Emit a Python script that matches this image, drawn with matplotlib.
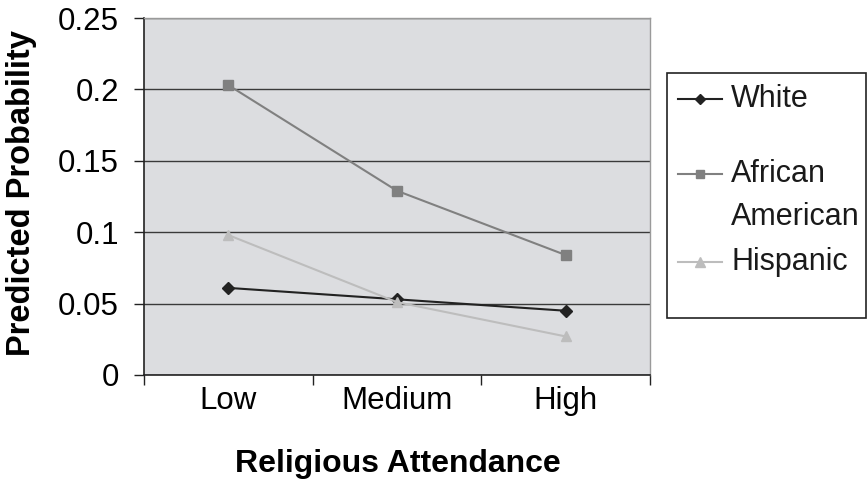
import matplotlib
matplotlib.use("Agg")
import matplotlib.pyplot as plt
from matplotlib.lines import Line2D
from matplotlib.patches import Rectangle

plt.rcParams["font.family"] = ["Liberation Sans", "DejaVu Sans"]

# data
categories = ["Low", "Medium", "High"]
series_names = ["White", "African\nAmerican", "Hispanic"]
white = [0.061, 0.053, 0.045]
african_american = [0.203, 0.129, 0.084]
hispanic = [0.098, 0.051, 0.027]
y_ticks = [0, 0.05, 0.1, 0.15, 0.2, 0.25]

W, H = 868, 482
FS = 22.5
fig = plt.figure(figsize=(W / 100, H / 100), dpi=100)
ax = fig.add_axes([144 / W, 1 - 375 / H, (650 - 144) / W, (375 - 18) / H])
ax.set_facecolor("#dcdde0")

x = list(range(1, len(categories) + 1))
styles = [
    dict(color="#222222", marker="D", ms=6.5, lw=1.5),
    dict(color="#808080", marker="s", ms=6.5, lw=1.5),
    dict(color="#bdbdbd", marker="^", ms=7.5, lw=1.5),
]
values = [white, african_american, hispanic]
for vals, st in zip(values, styles):
    ax.plot(x, vals, zorder=3, **st)

ax.set_xlim(0.5, len(categories) + 0.5)
ax.set_ylim(0, 0.25)
ax.set_yticks(y_ticks)
ax.set_yticklabels([f"{v:g}" for v in y_ticks])
ax.yaxis.grid(True, color="#3a3a3a", lw=1.0)
ax.set_axisbelow(True)

# category axis: tick marks between categories, labels centred
ax.set_xticks([i + 0.5 for i in range(len(categories) + 1)])
ax.set_xticklabels([])
ax.set_xticks(x, minor=True)
ax.set_xticklabels(categories, minor=True)
ax.tick_params(axis="x", which="major", direction="out", length=7, width=1, color="#222")
ax.tick_params(axis="x", which="minor", length=0, pad=8, labelsize=FS)
ax.tick_params(axis="y", direction="out", length=7, width=1, color="#222", pad=11, labelsize=FS)

for side in ("left", "bottom"):
    ax.spines[side].set_color("#222222")
    ax.spines[side].set_linewidth(1.2)
for side in ("top", "right"):
    ax.spines[side].set_color("#9a9a9a")
    ax.spines[side].set_linewidth(1.0)

fig.text(398 / W, 1 - 464 / H, "Religious Attendance", ha="center", va="center",
         fontsize=23, fontweight="bold")
fig.text(22 / W, 1 - 193 / H, "Predicted Probability", ha="center", va="center",
         rotation=90, fontsize=23.5, fontweight="bold")

# legend box drawn by hand (Excel style: marker beside first line of label)
fig.add_artist(Rectangle((667 / W, 1 - 318 / H), (866 - 667) / W, (318 - 73) / H,
                         transform=fig.transFigure, facecolor="white",
                         edgecolor="#222222", lw=1.2))
label_y = [99, 174, 262]
for name, st, yy in zip(series_names, styles, label_y):
    yf = 1 - yy / H
    fig.add_artist(Line2D([678 / W, 722 / W], [yf, yf], transform=fig.transFigure,
                          color=st["color"], lw=st["lw"]))
    fig.add_artist(Line2D([700 / W], [yf], transform=fig.transFigure,
                          color=st["color"], marker=st["marker"],
                          ms=st["ms"] - 1, lw=0))
    lines = name.split("\n")
    for k, ln in enumerate(lines):
        fig.text(731 / W, 1 - (yy + 43 * k) / H, ln, ha="left", va="center",
                 fontsize=22, color="#1a1a1a")

fig.savefig("out.png", dpi=100)
